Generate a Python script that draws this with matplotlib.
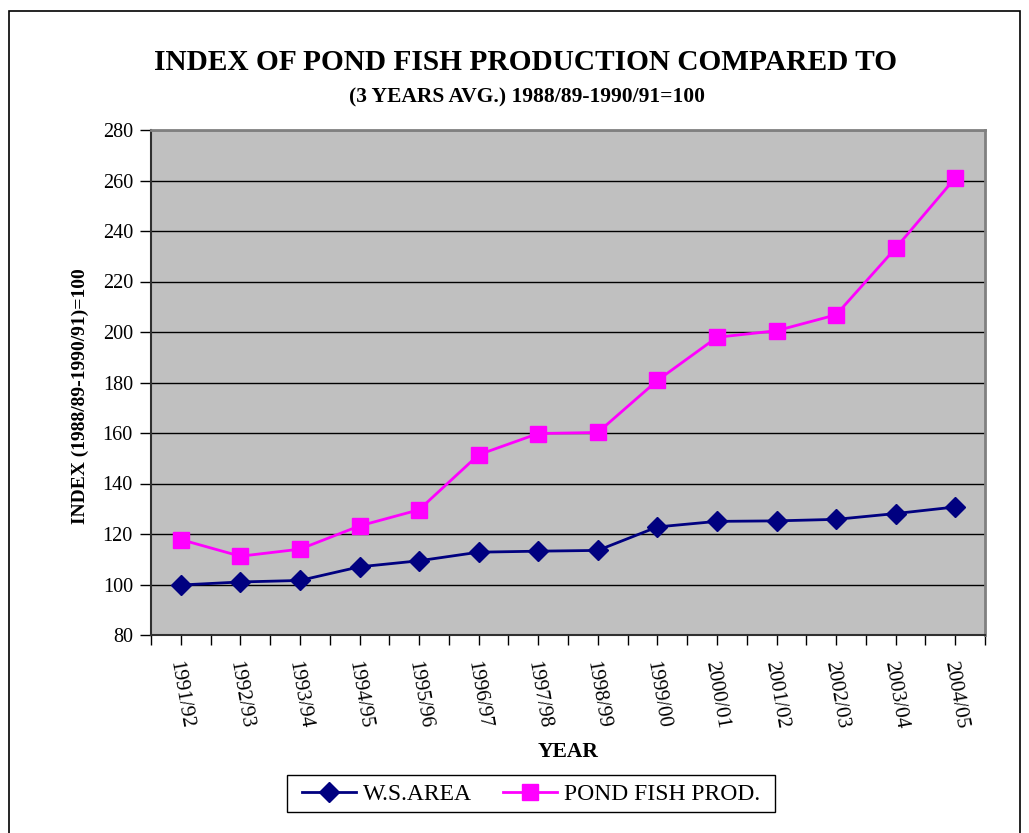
import numpy as np
import matplotlib.pyplot as plt
from matplotlib.patches import Rectangle

# ------------------------------------------------------
# index of pond fish production vs water spread area
# ------------------------------------------------------
years = ['1991/92', '1992/93', '1993/94', '1994/95', '1995/96', '1996/97', '1997/98',
         '1998/99', '1999/00', '2000/01', '2001/02', '2002/03', '2003/04', '2004/05']
ws_area = [99.8, 101.0, 101.6, 107.0, 109.4, 112.8, 113.2, 113.5, 122.8, 125.0,
           125.2, 125.8, 128.1, 130.7]
pond_fish = [117.8, 111.2, 114.0, 123.2, 129.6, 151.4, 159.8, 160.2, 180.8, 197.9,
             200.5, 206.8, 233.2, 261.0]
y_ticks = [80, 100, 120, 140, 160, 180, 200, 220, 240, 260, 280]

plt.rcParams['font.family'] = ['Liberation Serif', 'DejaVu Serif']

fig = plt.figure(figsize=(10.29, 8.33), dpi=100)
ax = fig.add_axes([151 / 1029, 1 - 635 / 833, 834 / 1029, 505 / 833])
ax.set_facecolor('#c0c0c0')

x = np.arange(len(years))
ax.plot(x, ws_area, color='#000080', lw=2, marker='D', ms=10, label='W.S.AREA', zorder=3)
ax.plot(x, pond_fish, color='#ff00ff', lw=2, marker='s', ms=11, label='POND FISH PROD.', zorder=3)

ax.set_ylim(80, 280)
ax.set_yticks(y_ticks)
ax.yaxis.grid(True, color='black', lw=1)
ax.set_axisbelow(True)
ax.set_xlim(-0.5, len(years) - 0.5)
ax.set_xticks(x)
ax.set_xticklabels(years, rotation=-80, ha='center', va='top', fontsize=15)
ax.set_xticks(np.arange(-0.5, len(years), 1.0), minor=True)
ax.tick_params(axis='x', which='both', direction='out', length=7, width=1, color='black', pad=11)
ax.tick_params(axis='y', direction='out', length=8, width=1, labelsize=14.5, pad=5)

for s in ['left', 'bottom']:
    ax.spines[s].set_color('#303030')
    ax.spines[s].set_linewidth(1.5)
for s in ['top', 'right']:
    ax.spines[s].set_color('#808080')
    ax.spines[s].set_linewidth(2)

ax.set_ylabel('INDEX (1988/89-1990/91)=100', fontsize=14, fontweight='bold')
ax.yaxis.set_label_coords(-0.0745, 0.473)
ax.set_xlabel('YEAR', fontsize=15.5, fontweight='bold', labelpad=8)

fig.text(0.511, 1 - 63 / 833, 'INDEX OF POND FISH PRODUCTION COMPARED TO',
         ha='center', va='center', fontsize=21.2, fontweight='bold')
fig.text(0.512, 1 - 97 / 833, '(3 YEARS AVG.) 1988/89-1990/91=100',
         ha='center', va='center', fontsize=15.5, fontweight='bold')

# legend without its own frame, box drawn separately (Excel style: wider than tall)
leg = ax.legend(loc='center', bbox_to_anchor=(531 / 1029, 1 - 794 / 833),
                bbox_transform=fig.transFigure, ncol=2, fontsize=17, frameon=False,
                handlelength=2.3, handletextpad=0.3, columnspacing=1.3,
                borderpad=0, borderaxespad=0)
fig.patches.append(Rectangle((287 / 1029, 1 - 812 / 833), 488 / 1029, 37 / 833,
                             transform=fig.transFigure, fill=False, edgecolor='black', lw=1))

# outer chart border
fig.patches.append(Rectangle((9 / 1029, -0.01), 1011 / 1029, 1 - 11 / 833 + 0.01,
                             transform=fig.transFigure, fill=False, edgecolor='black', lw=1.2))

fig.savefig('out.png', dpi=100)
